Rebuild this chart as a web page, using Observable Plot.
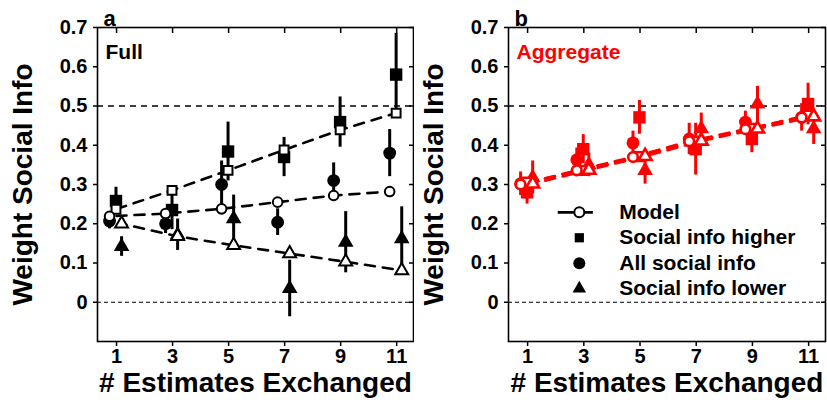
<!DOCTYPE html>
<html>
<head>
<meta charset="utf-8">
<script src="https://cdn.jsdelivr.net/npm/d3@7"></script>
<script src="https://cdn.jsdelivr.net/npm/@observablehq/plot@0.6"></script>
<style>
  html, body { margin: 0; padding: 0; background: #fff; }
  #wrap { display: flex; width: 827px; height: 400px; overflow: hidden; }
  #wrap svg { overflow: visible; }
</style>
</head>
<body>
<div id="wrap"></div>
<script>
// ---- categories / labels ----
const estimates = [1, 3, 5, 7, 9, 11];
const seriesNames = ["Social info higher", "All social info", "Social info lower"];
const modelName = "Model";
const yTicks = [0, 0.1, 0.2, 0.3, 0.4, 0.5, 0.6, 0.7];
const xTitle = "# Estimates Exchanged";
const yTitle = "Weight Social Info";
const panelLetters = ["a", "b"];
const panelNames = ["Full", "Aggregate"];

// ---- panel a: Full ----
const fullHigher    = [0.258, 0.235, 0.384, 0.370, 0.459, 0.580];
const fullHigherErr = [0.035, 0.050, 0.075, 0.050, 0.064, 0.105];
const fullAll       = [0.207, 0.200, 0.300, 0.204, 0.310, 0.380];
const fullAllErr    = [0.020, 0.025, 0.060, 0.034, 0.045, 0.060];
const fullLower     = [0.142, 0.172, 0.213, 0.035, 0.153, 0.162];
const fullLowerErr  = [0.025, 0.040, 0.060, 0.072, 0.078, 0.081];
const fullModelHigher = [0.237, 0.285, 0.336, 0.388, 0.439, 0.482];
const fullModelAll    = [0.219, 0.226, 0.238, 0.255, 0.272, 0.282];
const fullModelLower  = [0.200, 0.168, 0.145, 0.124, 0.103, 0.081];

// ---- panel b: Aggregate ----
const aggHigher    = [0.280, 0.390, 0.471, 0.390, 0.416, 0.505];
const aggHigherErr = [0.030, 0.037, 0.043, 0.066, 0.035, 0.053];
const aggAll       = [0.302, 0.363, 0.406, 0.416, 0.459, 0.471];
const aggAllErr    = [0.030, 0.030, 0.030, 0.040, 0.028, 0.035];
const aggLower     = [0.318, 0.350, 0.336, 0.442, 0.505, 0.442];
const aggLowerErr  = [0.042, 0.030, 0.035, 0.040, 0.045, 0.040];
const aggModelHigher = [0.306, 0.336, 0.371, 0.410, 0.443, 0.477];
const aggModelAll    = [0.300, 0.336, 0.370, 0.410, 0.441, 0.471];
const aggModelLower  = [0.302, 0.337, 0.372, 0.411, 0.442, 0.473];

// ---- styling ----
const symbols = ["square", "circle", "triangle"];
const jitter = [-0.02, -0.25, 0.18];
const rFilled = [7, 6.4, 5.8];
const rOpen = [5, 4.8, 4.8];
const pxPerUnit = 28.05;
const font = "'Liberation Sans', Arial, Helvetica, sans-serif";

function rowsFor(values, errs, k) {
  return estimates.map((e, i) => ({
    est: e, xp: e + jitter[k], y: values[i], err: errs ? errs[i] : 0, s: seriesNames[k], k
  }));
}

function panel(cfg) {
  const { letter, name, color, obs, models, width, marginLeft, marginRight, legend, openStroke } = cfg;
  const marks = [
    Plot.ruleY([0], { stroke: "black", strokeWidth: 1, strokeDasharray: "4,3" }),
    Plot.ruleY([0.5], { stroke: "black", strokeWidth: 1.6, strokeDasharray: "6,5" }),
    Plot.ruleX(obs, { x: "xp", y1: d => d.y - d.err, y2: d => d.y + d.err, stroke: color, strokeWidth: 3 })
  ];
  for (let k = 0; k < 3; k++) {
    marks.push(Plot.dot(obs.filter(d => d.k === k), {
      x: "xp", y: "y", symbol: symbols[k], r: rFilled[k], fill: color, stroke: "none"
    }));
  }
  for (let k = 0; k < 3; k++) {
    marks.push(Plot.line(models.filter(d => d.k === k), {
      x: "xp", y: "y", stroke: color, strokeWidth: 2.6, strokeDasharray: "10,8",
      strokeDashoffset: jitter[k] * pxPerUnit + 18
    }));
  }
  for (let k = 0; k < 3; k++) {
    marks.push(Plot.dot(models.filter(d => d.k === k), {
      x: "xp", y: "y", symbol: symbols[k], r: rOpen[k], fill: "white", stroke: color, strokeWidth: openStroke
    }));
  }
  // panel letter & name
  marks.push(Plot.text([letter], {
    text: d => d, frameAnchor: "top-left", dx: 6, dy: -2, lineAnchor: "bottom", textAnchor: "start",
    fontSize: 22, fontWeight: "bold", fill: "black"
  }));
  marks.push(Plot.text([name], {
    text: d => d, frameAnchor: "top-left", dx: 8, dy: 17, lineAnchor: "top", textAnchor: "start",
    fontSize: 21, fontWeight: "bold", fill: color
  }));
  // axis titles
  marks.push(Plot.text([yTitle], {
    text: d => d, frameAnchor: "left", dx: -74, rotate: -90, textAnchor: "middle", lineAnchor: "middle",
    fontSize: 28, fontWeight: "bold", fill: "black"
  }));
  marks.push(Plot.text([xTitle], {
    text: d => d, frameAnchor: "bottom", dy: 42, textAnchor: "middle", lineAnchor: "middle",
    fontSize: 28, fontWeight: "bold", fill: "black"
  }));
  // axes
  marks.push(
    Plot.axisX({ anchor: "bottom", ticks: estimates, tickSize: 5, tickPadding: 2, strokeWidth: 1.5,
      tickFormat: d => String(d), label: null, fontSize: 20, fontWeight: "bold" }),
    Plot.axisX({ anchor: "top", ticks: estimates, tickSize: 5, dy: 5, strokeWidth: 1.5,
      tickFormat: () => "", label: null }),
    Plot.axisY({ anchor: "left", ticks: yTicks, tickSize: 4, tickPadding: 6, strokeWidth: 1.5,
      tickFormat: d => d === 0 ? "0" : d.toFixed(1), label: null, fontSize: 20, fontWeight: "bold" }),
    Plot.axisY({ anchor: "right", ticks: yTicks, tickSize: 5, dx: -5, strokeWidth: 1.5,
      tickFormat: () => "", label: null }),
    Plot.frame({ stroke: "black", strokeWidth: 1.6 })
  );
  if (legend) {
    const legendX = 2.84, legendLineX1 = 2.09, legendLineX2 = 3.34, legendTextX = 4.26;
    const legendY0 = 0.229, legendStep = 0.0647;
    const rows = [modelName, ...seriesNames].map((label, i) => ({ label, y: legendY0 - i * legendStep, i }));
    marks.push(
      Plot.ruleY([rows[0]], { y: "y", x1: () => legendLineX1, x2: () => legendLineX2, stroke: "black", strokeWidth: 2.6 }),
      Plot.dot([rows[0]], { x: () => legendX, y: "y", r: 5, fill: "white", stroke: "black", strokeWidth: 2 }),
      Plot.dot([rows[1]], { x: () => legendX, y: "y", symbol: "square", r: 5.2, fill: "black" }),
      Plot.dot([rows[2]], { x: () => legendX, y: "y", symbol: "circle", r: 6, fill: "black" }),
      Plot.dot([rows[3]], { x: () => legendX, y: "y", symbol: "triangle", r: 5, fill: "black" }),
      Plot.text(rows, { x: () => legendTextX, y: "y", text: "label", textAnchor: "start", lineAnchor: "middle",
        fontSize: 21, fontWeight: "bold", fill: "black" })
    );
  }
  return Plot.plot({
    width, height: 400,
    marginTop: 27, marginBottom: 59, marginLeft, marginRight,
    x: { domain: [0.32, 11.6], axis: null },
    y: { domain: [-0.1, 0.7], axis: null },
    style: { fontFamily: font, fontWeight: "bold", fontSize: "20px", background: "white", color: "black", overflow: "visible" },
    marks
  });
}

const obsA = [
  ...rowsFor(fullHigher, fullHigherErr, 0),
  ...rowsFor(fullAll, fullAllErr, 1),
  ...rowsFor(fullLower, fullLowerErr, 2)
];
const modA = [
  ...rowsFor(fullModelHigher, null, 0),
  ...rowsFor(fullModelAll, null, 1),
  ...rowsFor(fullModelLower, null, 2)
];
const obsB = [
  ...rowsFor(aggHigher, aggHigherErr, 0),
  ...rowsFor(aggAll, aggAllErr, 1),
  ...rowsFor(aggLower, aggLowerErr, 2)
];
const modB = [
  ...rowsFor(aggModelHigher, null, 0),
  ...rowsFor(aggModelAll, null, 1),
  ...rowsFor(aggModelLower, null, 2)
];

const wrap = document.getElementById("wrap");
wrap.appendChild(panel({ letter: panelLetters[0], name: panelNames[0], color: "black", obs: obsA, models: modA,
  width: 414, marginLeft: 97, marginRight: 1, legend: false, openStroke: 2 }));
wrap.appendChild(panel({ letter: panelLetters[1], name: panelNames[1], color: "#ff0000", obs: obsB, models: modB,
  width: 413, marginLeft: 94, marginRight: 2, legend: true, openStroke: 2.6 }));
</script>
</body>
</html>
